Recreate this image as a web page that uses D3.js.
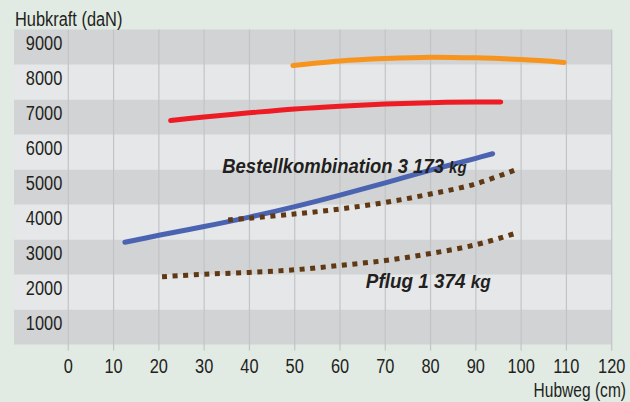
<!DOCTYPE html>
<html>
<head>
<meta charset="utf-8">
<script src="https://cdn.jsdelivr.net/npm/d3@7"></script>
<style>
  body { margin: 0; background: #e1ebe4; }
  svg { display: block; }
  text { font-family: "Liberation Sans", Arial, sans-serif; fill: #231f20; }
</style>
</head>
<body>
<div id="container"></div>
<script>
/* CONSTANTS AND GLOBALS */
const width = 630;
const height = 402;
const squeeze = 0.78; // reference uses a condensed face

// axis ticks
const xTicks = [0, 10, 20, 30, 40, 50, 60, 70, 80, 90, 100, 110, 120];
const yTicks = [1000, 2000, 3000, 4000, 5000, 6000, 7000, 8000, 9000];

// series (Hubweg cm / Hubkraft daN)
const orangeX = [49.6, 60, 70, 80, 90, 100, 109.5];
const orangeY = [7970, 8100, 8170, 8210, 8190, 8140, 8060];

const redX = [22.6, 30, 40, 50, 60, 70, 80, 90, 95.5];
const redY = [6400, 6500, 6620, 6730, 6810, 6870, 6910, 6930, 6930];

const blueX = [12.5, 20, 30, 40, 50, 60, 70, 80, 90, 93.7];
const blueY = [2920, 3120, 3370, 3640, 3940, 4270, 4620, 4980, 5320, 5450];

const kombiX = [35.3, 40, 50, 60, 70, 80, 90, 99.5];
const kombiY = [3557, 3610, 3730, 3870, 4060, 4300, 4590, 5030];

const pflugX = [20.7, 30, 40, 50, 60, 70, 80, 90, 99.5];
const pflugY = [1937, 2006, 2060, 2135, 2260, 2400, 2600, 2850, 3206];

/* SCALES */
const xScale = d3.scaleLinear().domain([0, 120]).range([68.3, 611.7]);
const yScale = d3.scaleLinear().domain([0, 9000]).range([344.5, 29.5]);

/* HTML ELEMENTS */
const svg = d3.select("#container")
  .append("svg")
  .attr("width", width)
  .attr("height", height);

// condensed text helper
function label(g, x, y, anchor, size, sx = squeeze) {
  return g.append("text")
    .attr("transform", `translate(${x},${y}) scale(${sx},1)`)
    .attr("text-anchor", anchor)
    .attr("font-size", size);
}

// horizontal bands
svg.selectAll("rect.band")
  .data(yTicks)
  .join("rect")
  .attr("class", "band")
  .attr("x", 14)
  .attr("width", xScale(120) - 14)
  .attr("y", d => yScale(d))
  .attr("height", d => yScale(d - 1000) - yScale(d))
  .attr("fill", d => (d / 1000) % 2 ? "#d1d3d5" : "#e6e7e9");

// vertical grid incl. small ticks below
svg.append("g")
  .selectAll("line")
  .data(xTicks)
  .join("line")
  .attr("x1", d => xScale(d))
  .attr("x2", d => xScale(d))
  .attr("y1", yScale(9000))
  .attr("y2", yScale(0) + 6)
  .attr("stroke", "#c3c4c7")
  .attr("stroke-width", 1.2);

// x labels
xTicks.forEach(d => label(svg, xScale(d), 373, "middle", 21).text(d));

// y labels, sitting inside the band below each value
yTicks.forEach(d => label(svg, xScale(0) - 6, yScale(d) + 20, "end", 21).text(d));

// lines
const line = d3.line()
  .x(d => xScale(d[0]))
  .y(d => yScale(d[1]))
  .curve(d3.curveCatmullRom.alpha(0.5));

const series = [
  { xs: orangeX, ys: orangeY, color: "#f7941d", dash: null },
  { xs: redX, ys: redY, color: "#ed1c24", dash: null },
  { xs: blueX, ys: blueY, color: "#4b64b1", dash: null },
  { xs: kombiX, ys: kombiY, color: "#603813", dash: "5,5.6" },
  { xs: pflugX, ys: pflugY, color: "#603813", dash: "5,5.6" }
];

svg.append("g")
  .selectAll("path")
  .data(series)
  .join("path")
  .attr("d", s => line(s.xs.map((x, i) => [x, s.ys[i]])))
  .attr("fill", "none")
  .attr("stroke", s => s.color)
  .attr("stroke-width", 5)
  .attr("stroke-linecap", s => s.dash ? "butt" : "round")
  .attr("stroke-dasharray", s => s.dash);

// annotations
const kombi = label(svg, xScale(34), 173, "start", 21, 0.88)
  .attr("font-weight", "bold")
  .attr("font-style", "italic");
kombi.append("tspan").text("Bestellkombination 3 173 ");
kombi.append("tspan").attr("font-size", 17).text("kg");

const pflug = label(svg, xScale(65.7), 287.5, "start", 21, 0.9)
  .attr("font-weight", "bold")
  .attr("font-style", "italic");
pflug.append("tspan").text("Pflug 1 374 ");
pflug.append("tspan").attr("font-size", 19).text("kg");

// axis titles
label(svg, 15, 26, "start", 21).text("Hubkraft (daN)");
label(svg, 626, 397, "end", 21, 0.74).text("Hubweg (cm)");
</script>
</body>
</html>
